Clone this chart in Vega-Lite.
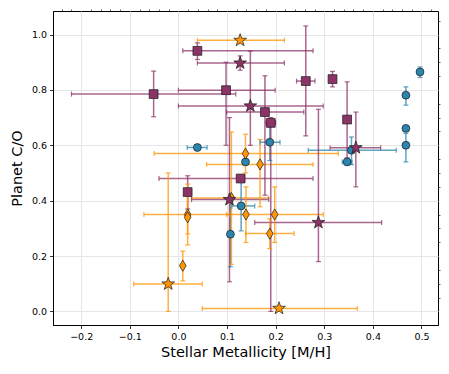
{
  "$schema": "https://vega.github.io/schema/vega-lite/v6.json",
  "width": 385,
  "height": 314,
  "autosize": {"type": "none"},
  "padding": {"left": 53, "top": 11, "right": 11, "bottom": 49},
  "background": "white",
  "config": {
    "view": {"stroke": "black", "strokeWidth": 1},
    "axis": {
      "labelFont": "DejaVu Sans",
      "titleFont": "DejaVu Sans",
      "labelFontSize": 9.5,
      "titleFontSize": 14.5,
      "titleFontWeight": "normal",
      "labelColor": "black",
      "titleColor": "black",
      "domainColor": "black",
      "tickColor": "black",
      "tickWidth": 0.8,
      "domainWidth": 1
    }
  },
  "data": {
    "values": [
      {"s": "blue", "k": "circle", "x": 0.039, "y": 0.592, "xlo": 0.018, "xhi": 0.059, "ylo": null, "yhi": null},
      {"s": "blue", "k": "circle", "x": 0.138, "y": 0.540, "xlo": null, "xhi": null, "ylo": null, "yhi": null},
      {"s": "blue", "k": "circle", "x": 0.188, "y": 0.611, "xlo": 0.168, "xhi": 0.209, "ylo": 0.545, "yhi": 0.666},
      {"s": "blue", "k": "circle", "x": 0.129, "y": 0.381, "xlo": 0.110, "xhi": 0.157, "ylo": 0.291, "yhi": 0.470},
      {"s": "blue", "k": "circle", "x": 0.107, "y": 0.279, "xlo": null, "xhi": null, "ylo": 0.161, "yhi": 0.400},
      {"s": "blue", "k": "circle", "x": 0.347, "y": 0.540, "xlo": 0.337, "xhi": 0.357, "ylo": null, "yhi": null},
      {"s": "blue", "k": "circle", "x": 0.356, "y": 0.582, "xlo": 0.267, "xhi": 0.448, "ylo": 0.530, "yhi": 0.630},
      {"s": "blue", "k": "circle", "x": 0.468, "y": 0.661, "xlo": null, "xhi": null, "ylo": null, "yhi": null},
      {"s": "blue", "k": "circle", "x": 0.468, "y": 0.600, "xlo": null, "xhi": null, "ylo": 0.540, "yhi": 0.643},
      {"s": "blue", "k": "circle", "x": 0.468, "y": 0.781, "xlo": null, "xhi": null, "ylo": 0.745, "yhi": 0.811},
      {"s": "blue", "k": "circle", "x": 0.497, "y": 0.865, "xlo": null, "xhi": null, "ylo": 0.845, "yhi": 0.883},
      {"s": "purple", "k": "square", "x": 0.039, "y": 0.941, "xlo": 0.009, "xhi": 0.277, "ylo": 0.910, "yhi": 0.970},
      {"s": "purple", "k": "square", "x": -0.051, "y": 0.785, "xlo": -0.220, "xhi": 0.118, "ylo": 0.703, "yhi": 0.868},
      {"s": "purple", "k": "square", "x": 0.098, "y": 0.799, "xlo": 0.000, "xhi": 0.199, "ylo": 0.600, "yhi": 0.900},
      {"s": "purple", "k": "square", "x": 0.178, "y": 0.720, "xlo": 0.099, "xhi": 0.258, "ylo": 0.420, "yhi": 0.851},
      {"s": "purple", "k": "square", "x": 0.262, "y": 0.832, "xlo": 0.243, "xhi": 0.281, "ylo": 0.634, "yhi": 1.031},
      {"s": "purple", "k": "square", "x": 0.317, "y": 0.839, "xlo": null, "xhi": null, "ylo": 0.811, "yhi": 0.867},
      {"s": "purple", "k": "square", "x": 0.347, "y": 0.693, "xlo": null, "xhi": null, "ylo": 0.555, "yhi": 0.829},
      {"s": "purple", "k": "square", "x": 0.190, "y": 0.681, "xlo": 0.180, "xhi": 0.200, "ylo": 0.000, "yhi": 0.700},
      {"s": "purple", "k": "square", "x": 0.128, "y": 0.480, "xlo": -0.040, "xhi": 0.277, "ylo": null, "yhi": null},
      {"s": "purple", "k": "square", "x": 0.019, "y": 0.431, "xlo": null, "xhi": null, "ylo": 0.370, "yhi": 0.490},
      {"s": "orange", "k": "diamond", "x": 0.138, "y": 0.570, "xlo": -0.050, "xhi": 0.329, "ylo": 0.500, "yhi": 0.640},
      {"s": "orange", "k": "diamond", "x": 0.168, "y": 0.531, "xlo": 0.058, "xhi": 0.277, "ylo": 0.378, "yhi": 0.621},
      {"s": "orange", "k": "diamond", "x": 0.019, "y": 0.350, "xlo": -0.071, "xhi": 0.106, "ylo": 0.280, "yhi": 0.460},
      {"s": "orange", "k": "diamond", "x": 0.019, "y": 0.340, "xlo": null, "xhi": null, "ylo": 0.240, "yhi": 0.440},
      {"s": "orange", "k": "diamond", "x": 0.009, "y": 0.165, "xlo": null, "xhi": null, "ylo": 0.110, "yhi": 0.218},
      {"s": "orange", "k": "diamond", "x": 0.139, "y": 0.350, "xlo": 0.099, "xhi": 0.298, "ylo": 0.249, "yhi": 0.450},
      {"s": "orange", "k": "diamond", "x": 0.198, "y": 0.350, "xlo": null, "xhi": null, "ylo": 0.249, "yhi": 0.450},
      {"s": "orange", "k": "diamond", "x": 0.188, "y": 0.281, "xlo": 0.138, "xhi": 0.238, "ylo": 0.227, "yhi": 0.335},
      {"s": "orange", "k": "diamond", "x": 0.109, "y": 0.410, "xlo": 0.027, "xhi": 0.185, "ylo": 0.170, "yhi": 0.648},
      {"s": "purple", "k": "star", "x": 0.127, "y": 0.897, "xlo": 0.039, "xhi": 0.218, "ylo": 0.871, "yhi": 0.923},
      {"s": "purple", "k": "star", "x": 0.148, "y": 0.742, "xlo": 0.000, "xhi": 0.298, "ylo": 0.600, "yhi": 0.940},
      {"s": "purple", "k": "star", "x": 0.365, "y": 0.591, "xlo": 0.312, "xhi": 0.416, "ylo": 0.450, "yhi": 0.720},
      {"s": "purple", "k": "star", "x": 0.105, "y": 0.404, "xlo": 0.027, "xhi": 0.186, "ylo": 0.107, "yhi": 0.700},
      {"s": "purple", "k": "star", "x": 0.288, "y": 0.321, "xlo": 0.157, "xhi": 0.418, "ylo": 0.180, "yhi": 0.730},
      {"s": "orange", "k": "star", "x": 0.127, "y": 0.979, "xlo": 0.039, "xhi": 0.218, "ylo": null, "yhi": null},
      {"s": "orange", "k": "star", "x": -0.021, "y": 0.099, "xlo": -0.092, "xhi": 0.049, "ylo": 0.000, "yhi": 0.500},
      {"s": "orange", "k": "star", "x": 0.207, "y": 0.011, "xlo": 0.049, "xhi": 0.368, "ylo": null, "yhi": null}
    ]
  },
  "resolve": {"axis": {"x": "independent", "y": "independent"}},
  "layer": [
    {
      "mark": {"type": "rule", "strokeWidth": 1.5, "opacity": 0.75},
      "encoding": {
        "x": {"field": "xlo", "type": "quantitative", "scale": {"domain": [-0.258, 0.534], "nice": false, "zero": false},
          "axis": {"title": "Stellar Metallicity [M/H]", "values": [-0.2, -0.1, 0, 0.1, 0.2, 0.3, 0.4, 0.5], "format": ".1f", "grid": true, "gridColor": "#e6e6e6", "tickSize": 3.5, "labelPadding": 3, "titlePadding": 4}},
        "x2": {"field": "xhi"},
        "y": {"field": "y", "type": "quantitative", "scale": {"domain": [-0.049, 1.085], "nice": false, "zero": false},
          "axis": {"title": "Planet C/O", "values": [0, 0.2, 0.4, 0.6, 0.8, 1.0], "format": ".1f", "grid": true, "gridColor": "#e6e6e6", "tickSize": 3.5, "labelPadding": 3, "titlePadding": 7}},
        "color": {"field": "s", "type": "nominal", "scale": {"domain": ["blue", "purple", "orange"], "range": ["#2a86ae", "#8e3368", "#ff9500"]}, "legend": null}
      }
    },
    {
      "mark": {"type": "rule", "strokeWidth": 1.5, "opacity": 0.75},
      "encoding": {
        "x": {"field": "x", "type": "quantitative", "scale": {"domain": [-0.258, 0.534], "nice": false, "zero": false},
          "axis": {"title": null, "values": [-0.24, -0.22, -0.18, -0.16, -0.14, -0.12, -0.08, -0.06, -0.04, -0.02, 0.02, 0.04, 0.06, 0.08, 0.12, 0.14, 0.16, 0.18, 0.22, 0.24, 0.26, 0.28, 0.32, 0.34, 0.36, 0.38, 0.42, 0.44, 0.46, 0.48, 0.52], "labels": false, "grid": false, "domain": false, "tickSize": 2, "tickWidth": 0.6}},
        "y": {"field": "ylo", "type": "quantitative", "scale": {"domain": [-0.049, 1.085], "nice": false, "zero": false},
          "axis": {"title": null, "values": [-0.05, 0.05, 0.1, 0.15, 0.25, 0.3, 0.35, 0.45, 0.5, 0.55, 0.65, 0.7, 0.75, 0.85, 0.9, 0.95, 1.05], "labels": false, "grid": false, "domain": false, "tickSize": 2, "tickWidth": 0.6}},
        "y2": {"field": "yhi"},
        "color": {"field": "s", "type": "nominal", "legend": null}
      }
    },
    {
      "mark": {"type": "tick", "orient": "vertical", "size": 5, "thickness": 1.2, "opacity": 0.75},
      "encoding": {
        "x": {"field": "xlo", "type": "quantitative", "axis": null},
        "y": {"field": "y", "type": "quantitative", "axis": null},
        "color": {"field": "s", "type": "nominal", "legend": null}
      }
    },
    {
      "mark": {"type": "tick", "orient": "vertical", "size": 5, "thickness": 1.2, "opacity": 0.75},
      "encoding": {
        "x": {"field": "xhi", "type": "quantitative", "axis": null},
        "y": {"field": "y", "type": "quantitative", "axis": null},
        "color": {"field": "s", "type": "nominal", "legend": null}
      }
    },
    {
      "mark": {"type": "tick", "orient": "horizontal", "size": 5, "thickness": 1.2, "opacity": 0.75},
      "encoding": {
        "x": {"field": "x", "type": "quantitative", "axis": null},
        "y": {"field": "ylo", "type": "quantitative", "axis": null},
        "color": {"field": "s", "type": "nominal", "legend": null}
      }
    },
    {
      "mark": {"type": "tick", "orient": "horizontal", "size": 5, "thickness": 1.2, "opacity": 0.75},
      "encoding": {
        "x": {"field": "x", "type": "quantitative", "axis": null},
        "y": {"field": "yhi", "type": "quantitative", "axis": null},
        "color": {"field": "s", "type": "nominal", "legend": null}
      }
    },
    {
      "mark": {"type": "point", "filled": true, "opacity": 1, "stroke": "#1a1a1a", "strokeWidth": 0.7},
      "encoding": {
        "x": {"field": "x", "type": "quantitative", "axis": null},
        "y": {"field": "y", "type": "quantitative", "axis": null},
        "color": {"field": "s", "type": "nominal", "legend": null},
        "shape": {"field": "k", "type": "nominal", "legend": null, "scale": {"domain": ["circle", "square", "diamond", "star"], "range": ["circle", "square", "M0,-1L0.6,0L0,1L-0.6,0Z", "M0,-1L0.235,-0.324L0.951,-0.309L0.38,0.124L0.588,0.809L0,0.4L-0.588,0.809L-0.38,0.124L-0.951,-0.309L-0.235,-0.324Z"]}},
        "size": {"field": "k", "type": "nominal", "legend": null, "scale": {"type": "ordinal", "domain": ["circle", "square", "diamond", "star"], "range": [62, 78, 125, 180]}}
      }
    }
  ]
}
